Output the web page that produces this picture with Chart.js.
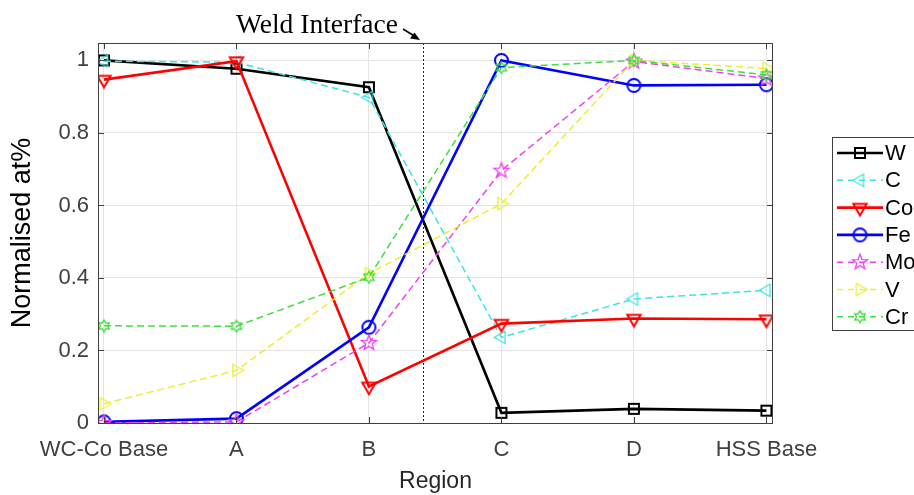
<!DOCTYPE html>
<html>
<head>
<meta charset="utf-8">
<script src="https://cdn.jsdelivr.net/npm/chart.js@4.4.1/dist/chart.umd.min.js"></script>
<style>
  html, body { margin: 0; padding: 0; background: #fff; }
  #wrap { width: 914px; height: 495px; }
</style>
</head>
<body>
<div id="wrap"><canvas id="myChart" width="914" height="495"></canvas></div>
<script>
// regions along the weld
var regions = ['WC-Co Base', 'A', 'B', 'C', 'D', 'HSS Base'];
var yTicks = [0, 0.2, 0.4, 0.6, 0.8, 1];

// normalised at% per element
var W  = [1.000, 0.977, 0.926, 0.028, 0.039, 0.034];
var C  = [0.998, 0.995, 0.898, 0.236, 0.342, 0.366];
var Co = [0.947, 0.998, 0.101, 0.274, 0.288, 0.286];
var Fe = [0.003, 0.012, 0.264, 1.000, 0.931, 0.933];
var Mo = [0.000, 0.003, 0.221, 0.696, 0.997, 0.950];
var V  = [0.053, 0.145, 0.412, 0.605, 1.000, 0.978];
var Cr = [0.268, 0.267, 0.402, 0.980, 1.000, 0.960];

var weldAt = 2.41;

function drawMarker(c, shape, x, y, s, color, lw) {
  c.save();
  c.strokeStyle = color;
  c.lineWidth = lw;
  c.beginPath();
  var r = s / 2, i, a;
  if (shape === 'square') {
    c.rect(x - r, y - r, s, s);
  } else if (shape === 'circle') {
    c.arc(x, y, r, 0, Math.PI * 2);
  } else if (shape === 'down' || shape === 'left' || shape === 'right') {
    var rot = shape === 'down' ? Math.PI / 2 : (shape === 'left' ? Math.PI : 0);
    for (i = 0; i < 3; i++) {
      a = rot + i * 2 * Math.PI / 3;
      var px = x + Math.cos(a) * r * 1.1, py = y + Math.sin(a) * r * 1.1;
      if (i === 0) c.moveTo(px, py); else c.lineTo(px, py);
    }
    c.closePath();
  } else if (shape === 'pentagram') {
    for (i = 0; i < 10; i++) {
      a = -Math.PI / 2 + i * Math.PI / 5;
      var rr = i % 2 === 0 ? r : r * 0.42;
      if (i === 0) c.moveTo(x + Math.cos(a) * rr, y + Math.sin(a) * rr);
      else c.lineTo(x + Math.cos(a) * rr, y + Math.sin(a) * rr);
    }
    c.closePath();
  } else if (shape === 'hexagram') {
    for (i = 0; i < 12; i++) {
      a = -Math.PI / 2 + i * Math.PI / 6;
      var rh = i % 2 === 0 ? r : r * 0.58;
      if (i === 0) c.moveTo(x + Math.cos(a) * rh, y + Math.sin(a) * rh);
      else c.lineTo(x + Math.cos(a) * rh, y + Math.sin(a) * rh);
    }
    c.closePath();
  }
  c.stroke();
  c.restore();
}

function markerImg(shape, color, s, lw) {
  var cv = document.createElement('canvas');
  cv.width = s + 6; cv.height = s + 6;
  drawMarker(cv.getContext('2d'), shape, cv.width / 2, cv.height / 2, s, color, lw);
  return cv;
}

function pts(arr) {
  return arr.map(function (v, i) { return { x: i, y: v }; });
}

var series = [
  { label: 'W',  data: W,  color: '#000000', shape: 'square',    size: 10, lw: 2.6, dash: [] },
  { label: 'C',  data: C,  color: '#3fe3e3', shape: 'left',      size: 13, lw: 1.5, dash: [7, 4] },
  { label: 'Co', data: Co, color: '#ff0000', shape: 'down',      size: 14, lw: 2.6, dash: [] },
  { label: 'Fe', data: Fe, color: '#0000ff', shape: 'circle',    size: 13, lw: 2.6, dash: [] },
  { label: 'Mo', data: Mo, color: '#f040f0', shape: 'pentagram', size: 16, lw: 1.5, dash: [7, 4] },
  { label: 'V',  data: V,  color: '#eeee30', shape: 'right',     size: 13, lw: 1.5, dash: [7, 4] },
  { label: 'Cr', data: Cr, color: '#3ee03e', shape: 'hexagram',  size: 12, lw: 1.5, dash: [7, 4] }
];

series.forEach(function (s) {
  s.img = markerImg(s.shape, s.color, s.size, s.lw > 2 ? 2 : 1.3);
});

var frame = {
  id: 'frame',
  beforeDatasetsDraw: function (chart) {
    var a = chart.chartArea, c = chart.ctx;
    var xs = chart.scales.x;
    c.save();
    // weld interface dotted line
    var wx = Math.round(xs.getPixelForValue(weldAt)) + 0.5;
    c.strokeStyle = '#222';
    c.lineWidth = 1;
    c.setLineDash([2, 2]);
    c.beginPath();
    c.moveTo(wx, a.top);
    c.lineTo(wx, a.bottom);
    c.stroke();
    c.restore();
  },
  afterDraw: function (chart) {
    var a = chart.chartArea, c = chart.ctx;
    var xs = chart.scales.x, ys = chart.scales.y;
    c.save();
    c.strokeStyle = '#404040';
    c.lineWidth = 1;
    c.strokeRect(a.left + 0.5, a.top + 0.5, a.right - a.left - 1, a.bottom - a.top);
    c.beginPath();
    regions.forEach(function (r, i) {
      var px = Math.round(xs.getPixelForValue(i)) + 0.5;
      c.moveTo(px, a.bottom); c.lineTo(px, a.bottom - 6);
      c.moveTo(px, a.top); c.lineTo(px, a.top + 6);
    });
    yTicks.forEach(function (v) {
      var py = Math.round(ys.getPixelForValue(v)) + 0.5;
      c.moveTo(a.left, py); c.lineTo(a.left + 6, py);
      c.moveTo(a.right, py); c.lineTo(a.right - 6, py);
    });
    c.stroke();

    // annotation text
    c.fillStyle = '#000';
    c.font = '27.5px "Liberation Serif", "DejaVu Serif", serif';
    c.textBaseline = 'alphabetic';
    c.fillText('Weld Interface', 236, 33);
    c.strokeStyle = '#000';
    c.lineWidth = 1.5;
    c.beginPath();
    c.moveTo(403, 29); c.lineTo(416, 37);
    c.stroke();
    c.beginPath();
    c.moveTo(420, 40); c.lineTo(410, 38.5); c.lineTo(414.5, 32.5);
    c.closePath();
    c.fill();

    // legend box
    var lx = 832, ly = 137, lh = 193;
    c.fillStyle = '#fff';
    c.fillRect(lx, ly, 120, lh);
    c.strokeStyle = '#404040';
    c.lineWidth = 1;
    c.strokeRect(lx + 0.5, ly + 0.5, 120, lh);
    c.font = '22px "Liberation Sans", Arial, sans-serif';
    c.textBaseline = 'middle';
    series.forEach(function (s, i) {
      var cy = 153 + i * 27.3;
      c.save();
      c.strokeStyle = s.color;
      c.lineWidth = s.lw;
      c.setLineDash(s.dash.length ? [6, 5] : []);
      c.beginPath();
      c.moveTo(837, cy); c.lineTo(883, cy);
      c.stroke();
      c.restore();
      c.drawImage(s.img, 860 - s.img.width / 2, cy - s.img.height / 2);
      c.fillStyle = '#000';
      c.fillText(s.label, 885, cy + 1);
    });
    c.restore();
  }
};

var ctx = document.getElementById('myChart').getContext('2d');
var myChart = new Chart(ctx, {
  type: 'line',
  data: {
    datasets: series.map(function (s, i) {
      return {
        label: s.label,
        data: pts(s.data),
        borderColor: s.color,
        borderWidth: s.lw,
        borderDash: s.dash,
        pointStyle: s.img,
        pointRadius: s.size / 2,
        pointHoverRadius: s.size / 2,
        tension: 0,
        fill: false,
        order: series.length - i
      };
    })
  },
  options: {
    responsive: false,
    animation: false,
    events: [],
    layout: { padding: { top: 43, right: 141, left: 0, bottom: 0 } },
    plugins: {
      legend: { display: false },
      tooltip: { enabled: false }
    },
    scales: {
      x: {
        type: 'linear',
        min: -0.045,
        max: 5.05,
        afterBuildTicks: function (axis) {
          axis.ticks = regions.map(function (r, i) { return { value: i }; });
        },
        afterFit: function (axis) { axis.height = 72; },
        ticks: {
          callback: function (v) { return regions[v]; },
          color: '#404040',
          font: { family: '"Liberation Sans", Arial, sans-serif', size: 22 },
          padding: 14,
          maxRotation: 0,
          autoSkip: false
        },
        grid: { color: '#e4e4e4', drawTicks: false },
        border: { display: false },
        title: {
          display: true,
          text: 'Region',
          color: '#262626',
          font: { family: '"Liberation Sans", Arial, sans-serif', size: 23 },
          padding: { top: 0, bottom: 0 }
        }
      },
      y: {
        min: 0,
        max: 1.048,
        afterBuildTicks: function (axis) {
          axis.ticks = yTicks.map(function (v) { return { value: v }; });
        },
        afterFit: function (axis) { axis.width = 98; },
        ticks: {
          callback: function (v) { return String(v); },
          color: '#404040',
          font: { family: '"Liberation Sans", Arial, sans-serif', size: 22 },
          padding: 9
        },
        grid: { color: '#e4e4e4', drawTicks: false },
        border: { display: false },
        title: {
          display: true,
          text: 'Normalised at%',
          color: '#000',
          font: { family: '"Liberation Sans", Arial, sans-serif', size: 27 },
          padding: { top: 6, bottom: 0 }
        }
      }
    }
  },
  plugins: [frame]
});
</script>
</body>
</html>
